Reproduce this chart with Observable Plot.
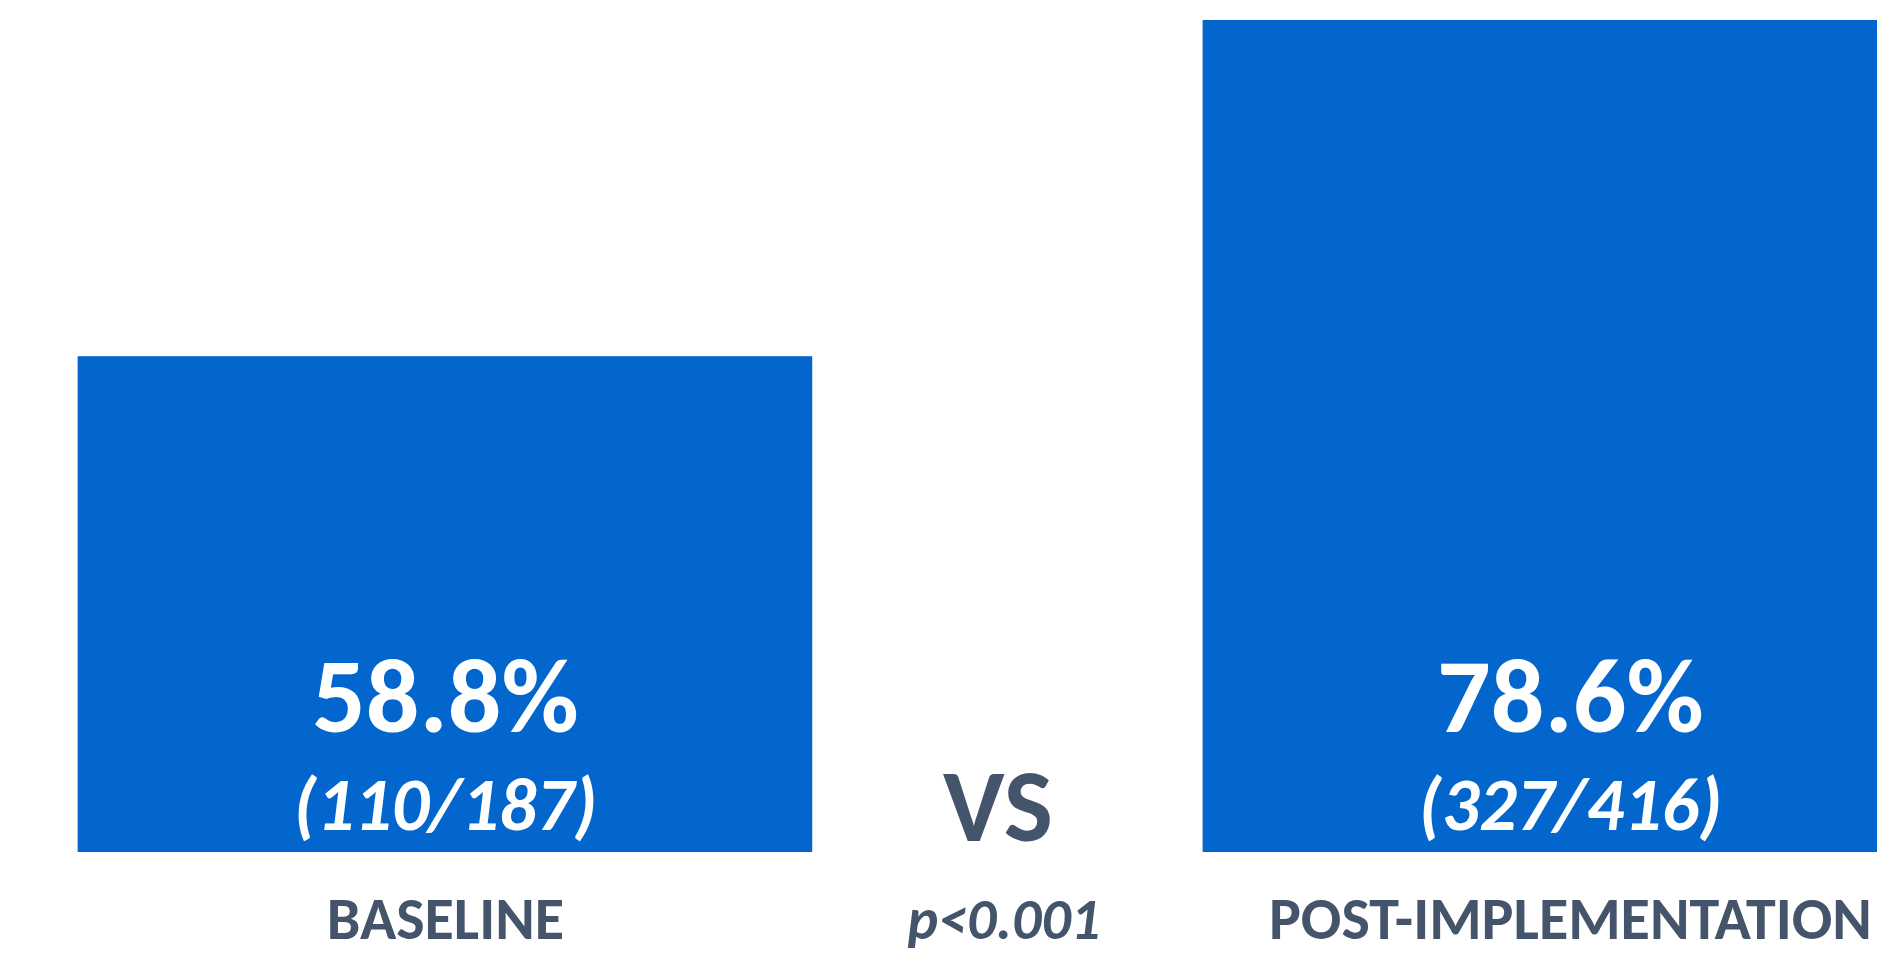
<!DOCTYPE html>
<html><head><meta charset="utf-8">
<script src="https://cdn.jsdelivr.net/npm/d3@7"></script>
<script src="https://cdn.jsdelivr.net/npm/@observablehq/plot@0.6"></script>
<style>html,body{margin:0;padding:0;background:#fff;overflow:hidden}</style>
</head><body><div id="chart"></div>
<script>
// Data
const categories = ["BASELINE", "POST-IMPLEMENTATION"];
const positions = [0, 2];
const percents = [58.8, 78.6];
const successes = [110, 327];
const totals = [187, 416];
const comparisonLabels = ["VS"];
const pValueLabels = ["p<0.001"];
const comparisonPositions = [1];

const rows = categories.map((c, i) => ({
  category: c, pos: positions[i], pct: percents[i], n: successes[i], N: totals[i]
}));
const mids = comparisonLabels.map((l, i) => ({label: l, p: pValueLabels[i], pos: comparisonPositions[i]}));

const floor = 29.6;
const halfWidth = 0.653;
const blue = "#0366CC";
const grey = "#44546A";
const font = "Carlito, Calibri, Lato, sans-serif";

const chart = Plot.plot({
  width: 1877, height: 955,
  marginTop: 20, marginBottom: 103, marginLeft: 0, marginRight: 0,
  style: {fontFamily: font, background: "#fff"},
  x: {type: "linear", domain: [-0.791, 2.546], axis: null},
  y: {domain: [floor, 78.6], axis: null},
  marks: [
    Plot.rectY(rows, {x1: d => d.pos - halfWidth, x2: d => d.pos + halfWidth, y1: floor, y2: "pct", fill: blue}),
    Plot.text(rows, {x: "pos", text: d => d.pct.toFixed(1) + "%", frameAnchor: "bottom", lineAnchor: "bottom", dy: -121,
      fill: "white", fontSize: 106, fontWeight: 800, fontFamily: font}),
    Plot.text(rows, {x: "pos", text: d => `(${d.n}/${d.N})`, frameAnchor: "bottom", lineAnchor: "bottom", dy: -23,
      fill: "white", fontSize: 74, fontWeight: 800, fontStyle: "italic", fontFamily: font}),
    Plot.text(rows, {x: "pos", text: "category", frameAnchor: "bottom", lineAnchor: "bottom", dy: 86,
      fill: grey, fontSize: 60, fontWeight: 800, fontFamily: font}),
    Plot.text(mids, {x: "pos", text: "label", frameAnchor: "bottom", lineAnchor: "bottom", dy: -12, dx: -10,
      fill: grey, fontSize: 104, fontWeight: 800, fontFamily: font}),
    Plot.text(mids, {x: "pos", text: "p", frameAnchor: "bottom", lineAnchor: "bottom", dy: 86, dx: -4,
      fill: grey, fontSize: 58, fontWeight: 800, fontStyle: "italic", fontFamily: font})
  ]
});
document.getElementById("chart").append(chart);
</script></body></html>
